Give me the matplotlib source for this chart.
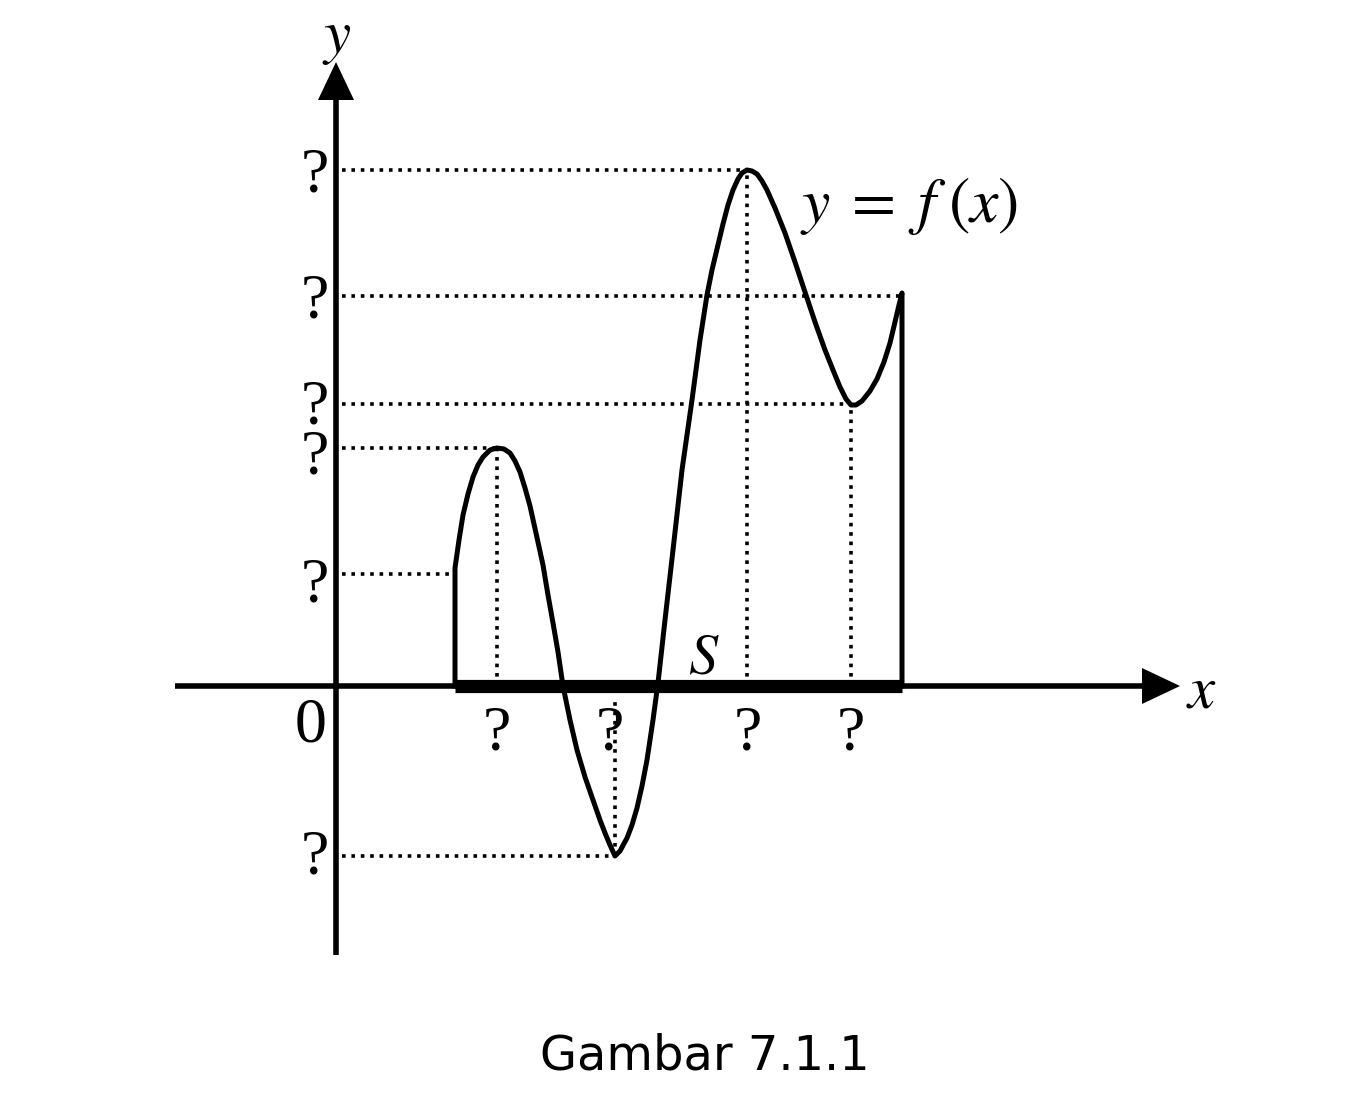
import matplotlib
matplotlib.use("Agg")
import matplotlib.pyplot as plt
import numpy as np

plt.rcParams['mathtext.fontset'] = 'stix'

# curve y = f(x) (1 unit = 100 px, origin at the axes crossing)
curve_x = [1.19, 1.19, 1.23, 1.27, 1.32, 1.37, 1.42, 1.47, 1.54, 1.61, 1.68, 1.74, 1.79,
           1.84, 1.89, 1.94, 2.00, 2.07, 2.12, 2.17, 2.22, 2.27, 2.34, 2.41, 2.49, 2.57,
           2.64, 2.69, 2.74, 2.79, 2.84, 2.91, 2.96, 3.01, 3.06, 3.11, 3.17, 3.22, 3.29,
           3.37, 3.46, 3.56, 3.64, 3.71, 3.76, 3.81, 3.87, 3.92, 3.97, 4.02, 4.06, 4.11,
           4.16, 4.21, 4.26, 4.31, 4.39, 4.49, 4.59, 4.69, 4.79, 4.89, 4.97, 5.04, 5.10,
           5.15, 5.20, 5.26, 5.34, 5.41, 5.48, 5.54, 5.59, 5.63, 5.66, 5.66]
curve_y = [0.00, 1.18, 1.46, 1.71, 1.92, 2.09, 2.21, 2.29, 2.36, 2.38, 2.37, 2.33, 2.25,
           2.14, 1.98, 1.80, 1.53, 1.21, 0.91, 0.63, 0.34, 0.00, -0.34, -0.64, -0.91, -1.14,
           -1.34, -1.47, -1.59, -1.70, -1.65, -1.52, -1.39, -1.22, -1.00, -0.74, -0.34, 0.03, 0.66,
           1.36, 2.16, 2.86, 3.46, 3.91, 4.16, 4.37, 4.62, 4.81, 4.96, 5.07, 5.13, 5.16,
           5.15, 5.12, 5.05, 4.96, 4.78, 4.53, 4.24, 3.94, 3.64, 3.36, 3.16, 2.99, 2.87,
           2.81, 2.81, 2.85, 2.95, 3.07, 3.24, 3.43, 3.64, 3.81, 3.93, 0.00]

# region S on the x axis
s_start, s_end = 1.19, 5.66

# dotted guides: horizontal (level, right end) and vertical (x, bottom, top)
h_levels = [5.16, 3.90, 2.82, 2.38, 1.12, -1.70]
h_ends = [4.11, 5.66, 5.15, 1.61, 1.19, 2.79]
v_xs = [1.61, 2.79, 4.11, 5.15]
v_lo = [0.00, -1.70, 0.00, 0.00]
v_hi = [2.38, -0.11, 5.16, 2.82]

# "?" labels
ylab_pos = [5.16, 3.90, 2.83, 2.34, 1.06, -1.67]
xlab_pos = [1.61, 2.74, 4.12, 5.15]

fig = plt.figure(figsize=(13.68, 10.97), dpi=100)
ax = fig.add_axes([0, 0, 1, 1])
ax.set_xlim(-3.36, 10.32)
ax.set_ylim(-4.11, 6.86)
ax.axis('off')

dots = dict(color='black', lw=2.6, linestyle=(0, (1, 1.6)), dash_capstyle='butt')

# axes with arrowheads
ax.plot([-1.61, 8.06], [0, 0], color='black', lw=4, solid_capstyle='butt')
ax.plot([0, 0], [-2.69, 5.86], color='black', lw=4, solid_capstyle='butt')
ax.fill([8.06, 8.44, 8.06], [0.18, 0, -0.18], color='black', lw=0)
ax.fill([-0.18, 0, 0.18], [5.86, 6.24, 5.86], color='black', lw=0)

for lv, xe in zip(h_levels, h_ends):
    ax.plot([0.06, xe], [lv, lv], **dots)
for xv, lo, hi in zip(v_xs, v_lo, v_hi):
    ax.plot([xv, xv], [lo, hi], **dots)

ax.plot([s_start, s_end], [0, 0], color='black', lw=9.5, solid_capstyle='butt')
ax.plot(curve_x, curve_y, color='black', lw=3.6, solid_joinstyle='round')

serif = dict(family='Liberation Serif', fontsize=46, color='black')
for yv in ylab_pos:
    ax.text(-0.21, yv - 0.21, '?', ha='center', va='baseline', **serif)
for xv in xlab_pos:
    ax.text(xv, -0.64, '?', ha='center', va='baseline', **serif)
ax.text(-0.25, -0.56, '0', ha='center', va='baseline', **serif)

ax.text(0.01, 6.34, '$y$', ha='center', va='baseline', fontsize=44)
ax.text(8.65, -0.21, '$x$', ha='center', va='baseline', fontsize=44)
ax.text(3.68, 0.13, '$S$', ha='center', va='baseline', fontsize=42)
ax.text(4.64, 4.64, r'$y\;=\;f\;(x)$', ha='left', va='baseline', fontsize=46)

ax.text(3.69, -3.84, 'Gambar 7.1.1', ha='center', va='baseline',
        family='DejaVu Sans', fontsize=34.5, color='black')

fig.savefig('out.png', dpi=100)
